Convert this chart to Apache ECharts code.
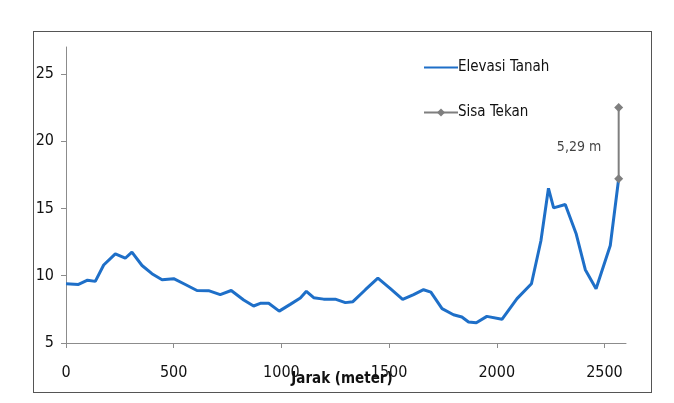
<!DOCTYPE html>
<html>
<head>
<meta charset="utf-8">
<script src="https://cdn.jsdelivr.net/npm/echarts@6/dist/echarts.min.js"></script>
<style>
html,body{margin:0;padding:0;background:#fff;}
#chart{width:674px;height:403px;}
#frame{position:absolute;left:33px;top:31px;width:617px;height:360px;border:1px solid #555;pointer-events:none;}
</style>
</head>
<body>
<div id="chart"></div>
<div id="frame"></div>
<script>
// ---- data ----
var distance = [0, 58, 100, 136, 175, 229, 275, 306, 353, 399, 446, 500, 554, 608, 662, 716, 767, 825, 871, 902, 941, 990, 1041, 1088, 1116, 1150, 1196, 1250, 1297, 1332, 1390, 1448, 1506, 1563, 1614, 1660, 1694, 1746, 1799, 1838, 1869, 1905, 1954, 2024, 2094, 2161, 2205, 2240, 2264, 2318, 2369, 2411, 2461, 2527, 2566];
var elevasi = [9.4, 9.35, 9.67, 9.58, 10.8, 11.63, 11.3, 11.75, 10.76, 10.15, 9.7, 9.78, 9.35, 8.9, 8.89, 8.6, 8.9, 8.2, 7.75, 7.95, 7.95, 7.37, 7.87, 8.34, 8.84, 8.37, 8.26, 8.26, 8.0, 8.07, 8.96, 9.82, 9.04, 8.24, 8.6, 8.96, 8.78, 7.55, 7.1, 6.93, 6.56, 6.5, 6.98, 6.76, 8.3, 9.4, 12.6, 16.5, 15.04, 15.29, 13.1, 10.45, 9.03, 12.25, 17.21];
var sisaX = [2566, 2566];
var sisaY = [17.21, 22.5];
var sisaLabel = '5,29 m';
var xTicks = [0, 500, 1000, 1500, 2000, 2500];
var yTicks = [5, 10, 15, 20, 25];

var FONT = '"Liberation Sans Narrow", "DejaVu Sans Condensed", "Arial Narrow", sans-serif';

var chart = echarts.init(document.getElementById('chart'));
var elevData = distance.map(function (d, i) { return [d, elevasi[i]]; });
var sisaData = sisaX.map(function (d, i) { return [d, sisaY[i]]; });
var midY = (sisaY[0] + sisaY[1]) / 2;

chart.setOption({
  animation: false,
  backgroundColor: '#fff',
  grid: { left: 66, right: 48, top: 47, bottom: 60, containLabel: false },
  legend: {
    data: [
      { name: 'Elevasi Tanah', itemStyle: { opacity: 0 } },
      { name: 'Sisa Tekan' }
    ],
    orient: 'vertical',
    left: 418,
    top: 55,
    itemWidth: 34,
    itemHeight: 10,
    itemGap: 30,
    textStyle: { fontFamily: FONT, fontSize: 15, color: '#111', padding: [0, 0, 0, -5] }
  },
  xAxis: {
    type: 'value',
    min: 0, max: 2600,
    interval: 500,
    name: 'Jarak (meter)',
    nameLocation: 'middle',
    nameGap: 29,
    nameMoveOverlap: false,
    nameTextStyle: { fontFamily: FONT, fontSize: 15, fontWeight: 'bold', color: '#111', padding: [0, 8, 0, 0] },
    axisLine: { show: true, onZero: false, lineStyle: { color: '#8c8c8c', width: 1 } },
    axisTick: { show: true, length: 5, lineStyle: { color: '#8c8c8c' }, customValues: xTicks },
    axisLabel: { margin: 22, fontFamily: FONT, fontSize: 16, color: '#111', customValues: xTicks,
      formatter: function (v) { return String(v); } },
    splitLine: { show: false }
  },
  yAxis: {
    type: 'value',
    min: 5, max: 27,
    interval: 5,
    axisLine: { show: true, lineStyle: { color: '#8c8c8c', width: 1 } },
    axisTick: { show: true, length: 5, lineStyle: { color: '#8c8c8c' }, customValues: yTicks },
    axisLabel: { margin: 12, fontFamily: FONT, fontSize: 16, color: '#111', customValues: yTicks,
      formatter: function (v) { return String(v); } },
    splitLine: { show: false }
  },
  series: [
    {
      name: 'Elevasi Tanah',
      type: 'line',
      data: elevData,
      symbol: 'none',
      lineStyle: { color: '#1e6fc8', width: 3 },
      itemStyle: { color: '#1e6fc8' }
    },
    {
      name: 'Sisa Tekan',
      type: 'line',
      data: sisaData,
      symbol: 'diamond',
      symbolSize: 9,
      lineStyle: { color: '#7f7f7f', width: 2 },
      itemStyle: { color: '#7f7f7f' }
    },
    {
      name: 'label',
      type: 'scatter',
      data: [[sisaX[0], midY]],
      symbolSize: 1,
      itemStyle: { color: 'rgba(0,0,0,0)' },
      label: {
        show: true,
        position: 'left',
        distance: 17,
        offset: [0, 4],
        formatter: sisaLabel,
        fontFamily: FONT,
        fontSize: 14,
        color: '#111'
      },
      silent: true
    }
  ]
});
</script>
</body>
</html>
